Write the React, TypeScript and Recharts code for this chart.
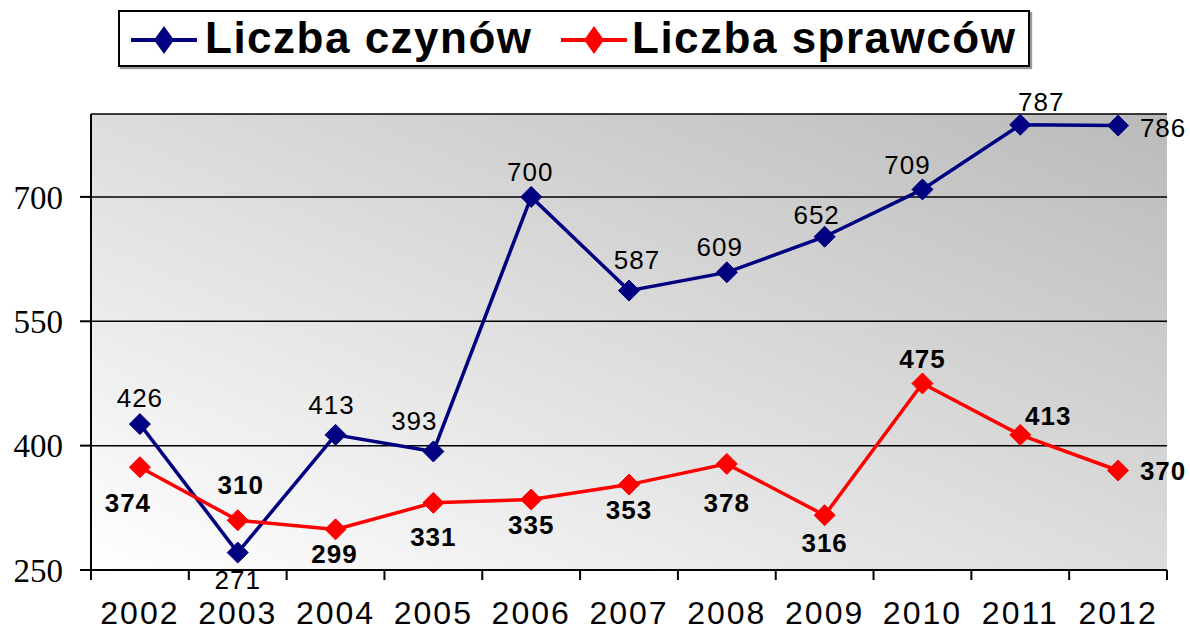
import React from 'react';
import { LineChart, Line, XAxis, YAxis, CartesianGrid, Legend, LabelList } from 'recharts';

const years = ['2002', '2003', '2004', '2005', '2006', '2007', '2008', '2009', '2010', '2011', '2012'];
const czyny = [426, 271, 413, 393, 700, 587, 609, 652, 709, 787, 786];
const sprawcy = [374, 310, 299, 331, 335, 353, 378, 316, 475, 413, 370];
const yTicks = [250, 400, 550, 700];
const yDomain: [number, number] = [250, 800];
const seriesNames = ['Liczba czynów', 'Liczba sprawców'];

const BLUE = '#000080';
const RED = '#ff0000';

const data = years.map((year, i) => ({ pos: i + 0.5, year, czyny: czyny[i], sprawcy: sprawcy[i] }));
const xTicks: number[] = [];
for (let i = 0; i <= years.length; i++) {
  xTicks.push(i);
  if (i < years.length) xTicks.push(i + 0.5);
}

// label placement offsets (style only): [dx, dy] relative to point
const blueLabelOffsets = [[0, -26], [0, 27], [-4, -30], [-19, -31], [-1, -25], [8, -31], [-7, -26], [-8, -22], [-15, -25], [21, -23], [45, 2]];
const redLabelOffsets = [[-12, 35], [3, -36], [-1, 24], [0, 34], [0, 25], [0, 25], [0, 39], [0, 27], [0, -25], [28, -19], [45, 0]];

const Diamond = (color: string) => (props: any) => {
  const { cx, cy, index } = props;
  if (cx == null || cy == null) return <g key={index} />;
  const r = 10.5;
  return (
    <polygon
      key={index}
      points={`${cx},${cy - r} ${cx + r},${cy} ${cx},${cy + r} ${cx - r},${cy}`}
      fill={color}
      stroke={color}
    />
  );
};

const makeLabel = (offsets: number[][], bold: boolean) => (p: any) => {
  const idx = p.index;
  const x = p.x ?? p.viewBox?.x;
  const y = p.y ?? p.viewBox?.y;
  if (x == null || y == null) return null;
  const [dx, dy] = offsets[idx] || [0, -25];
  return (
    <text
      x={x + dx}
      y={y + dy}
      dy="0.36em"
      textAnchor="middle"
      fontFamily="'Liberation Sans', Arial, sans-serif"
      fontSize={26}
      fontWeight={bold ? 'bold' : 'normal'}
      letterSpacing={1}
      fill="#000"
    >
      {p.value}
    </text>
  );
};

const XTick = (props: any) => {
  const { x, y, payload } = props;
  const v = payload.value;
  if (Number.isInteger(v)) {
    return <line x1={x} y1={y} x2={x} y2={y + 10} stroke="#000" strokeWidth={2} />;
  }
  const idx = Math.floor(v);
  return (
    <text
      x={x}
      y={y + 54}
      textAnchor="middle"
      fontFamily="'Liberation Sans', Arial, sans-serif"
      fontSize={32}
      letterSpacing={2}
      fill="#000"
    >
      {years[idx]}
    </text>
  );
};

const LegendIcon = ({ color }: { color: string }) => (
  <svg width={66} height={30} style={{ position: 'absolute', top: 0, left: 0 }}>
    <line x1={0} y1={15} x2={66} y2={15} stroke={color} strokeWidth={4} />
    <polygon points="33,1 43,15 33,29 23,15" fill={color} />
  </svg>
);

const LegendBox = () => (
  <div
    style={{
      position: 'relative',
      width: 912,
      height: 57,
      boxSizing: 'border-box',
      border: '2px solid #000',
      background: '#fff',
      boxShadow: '2px 2px 1px #999',
    }}
  >
    <div style={{ position: 'absolute', left: 11, top: 13, width: 66, height: 30 }}>
      <LegendIcon color={BLUE} />
    </div>
    <div
      style={{
        position: 'absolute',
        left: 85,
        top: 4,
        fontFamily: "'Liberation Sans', Arial, sans-serif",
        fontWeight: 'bold',
        fontSize: 44,
        lineHeight: '44px',
        letterSpacing: 1.5,
        color: '#000',
        whiteSpace: 'nowrap',
      }}
    >
      {seriesNames[0]}
    </div>
    <div style={{ position: 'absolute', left: 441, top: 13, width: 66, height: 30 }}>
      <LegendIcon color={RED} />
    </div>
    <div
      style={{
        position: 'absolute',
        left: 512,
        top: 4,
        fontFamily: "'Liberation Sans', Arial, sans-serif",
        fontWeight: 'bold',
        fontSize: 44,
        lineHeight: '44px',
        letterSpacing: 1.5,
        color: '#000',
        whiteSpace: 'nowrap',
      }}
    >
      {seriesNames[1]}
    </div>
  </div>
);

export default function App() {
  return (
    <div style={{ position: 'absolute', left: 0, top: 0, width: 1190, height: 631, background: '#fff' }}>
      <LineChart width={1190} height={631} data={data} margin={{ top: 114, right: 23, bottom: 0, left: 0 }}>
        <defs>
          <linearGradient id="bgGrad" x1="0" y1="1" x2="1" y2="0">
            <stop offset="0%" stopColor="#ffffff" />
            <stop offset="100%" stopColor="#bababa" />
          </linearGradient>
        </defs>
        <CartesianGrid vertical={false} stroke="#000" strokeWidth={1.5} fill="url(#bgGrad)" fillOpacity={1} />
        <XAxis
          dataKey="pos"
          type="number"
          domain={[0, years.length]}
          ticks={xTicks}
          interval={0}
          allowDecimals
          tickLine={false}
          tickSize={0}
          tickMargin={0}
          axisLine={{ stroke: '#000', strokeWidth: 2 }}
          tick={(p: any) => <XTick {...p} />}
          height={61}
        />
        <YAxis
          type="number"
          domain={yDomain}
          ticks={yTicks}
          interval={0}
          width={91}
          tickSize={11}
          tickMargin={17}
          tickLine={{ stroke: '#000', strokeWidth: 2 }}
          axisLine={{ stroke: '#000', strokeWidth: 2 }}
          tick={{ fontFamily: "'Liberation Serif', 'Times New Roman', serif", fontSize: 33, fill: '#000' }}
          allowDataOverflow
        />
        <Legend
          verticalAlign="middle"
          align="center"
          layout="horizontal"
          content={() => <LegendBox />}
          wrapperStyle={{ top: 10, left: 118, width: 912, height: 57 }}
        />
        <Line
          name={seriesNames[0]}
          dataKey="czyny"
          type="linear"
          stroke={BLUE}
          strokeWidth={3.5}
          dot={Diamond(BLUE)}
          activeDot={false}
          isAnimationActive={false}
        >
          <LabelList dataKey="czyny" content={makeLabel(blueLabelOffsets, false)} />
        </Line>
        <Line
          name={seriesNames[1]}
          dataKey="sprawcy"
          type="linear"
          stroke={RED}
          strokeWidth={3.5}
          dot={Diamond(RED)}
          activeDot={false}
          isAnimationActive={false}
        >
          <LabelList dataKey="sprawcy" content={makeLabel(redLabelOffsets, true)} />
        </Line>
      </LineChart>
    </div>
  );
}
